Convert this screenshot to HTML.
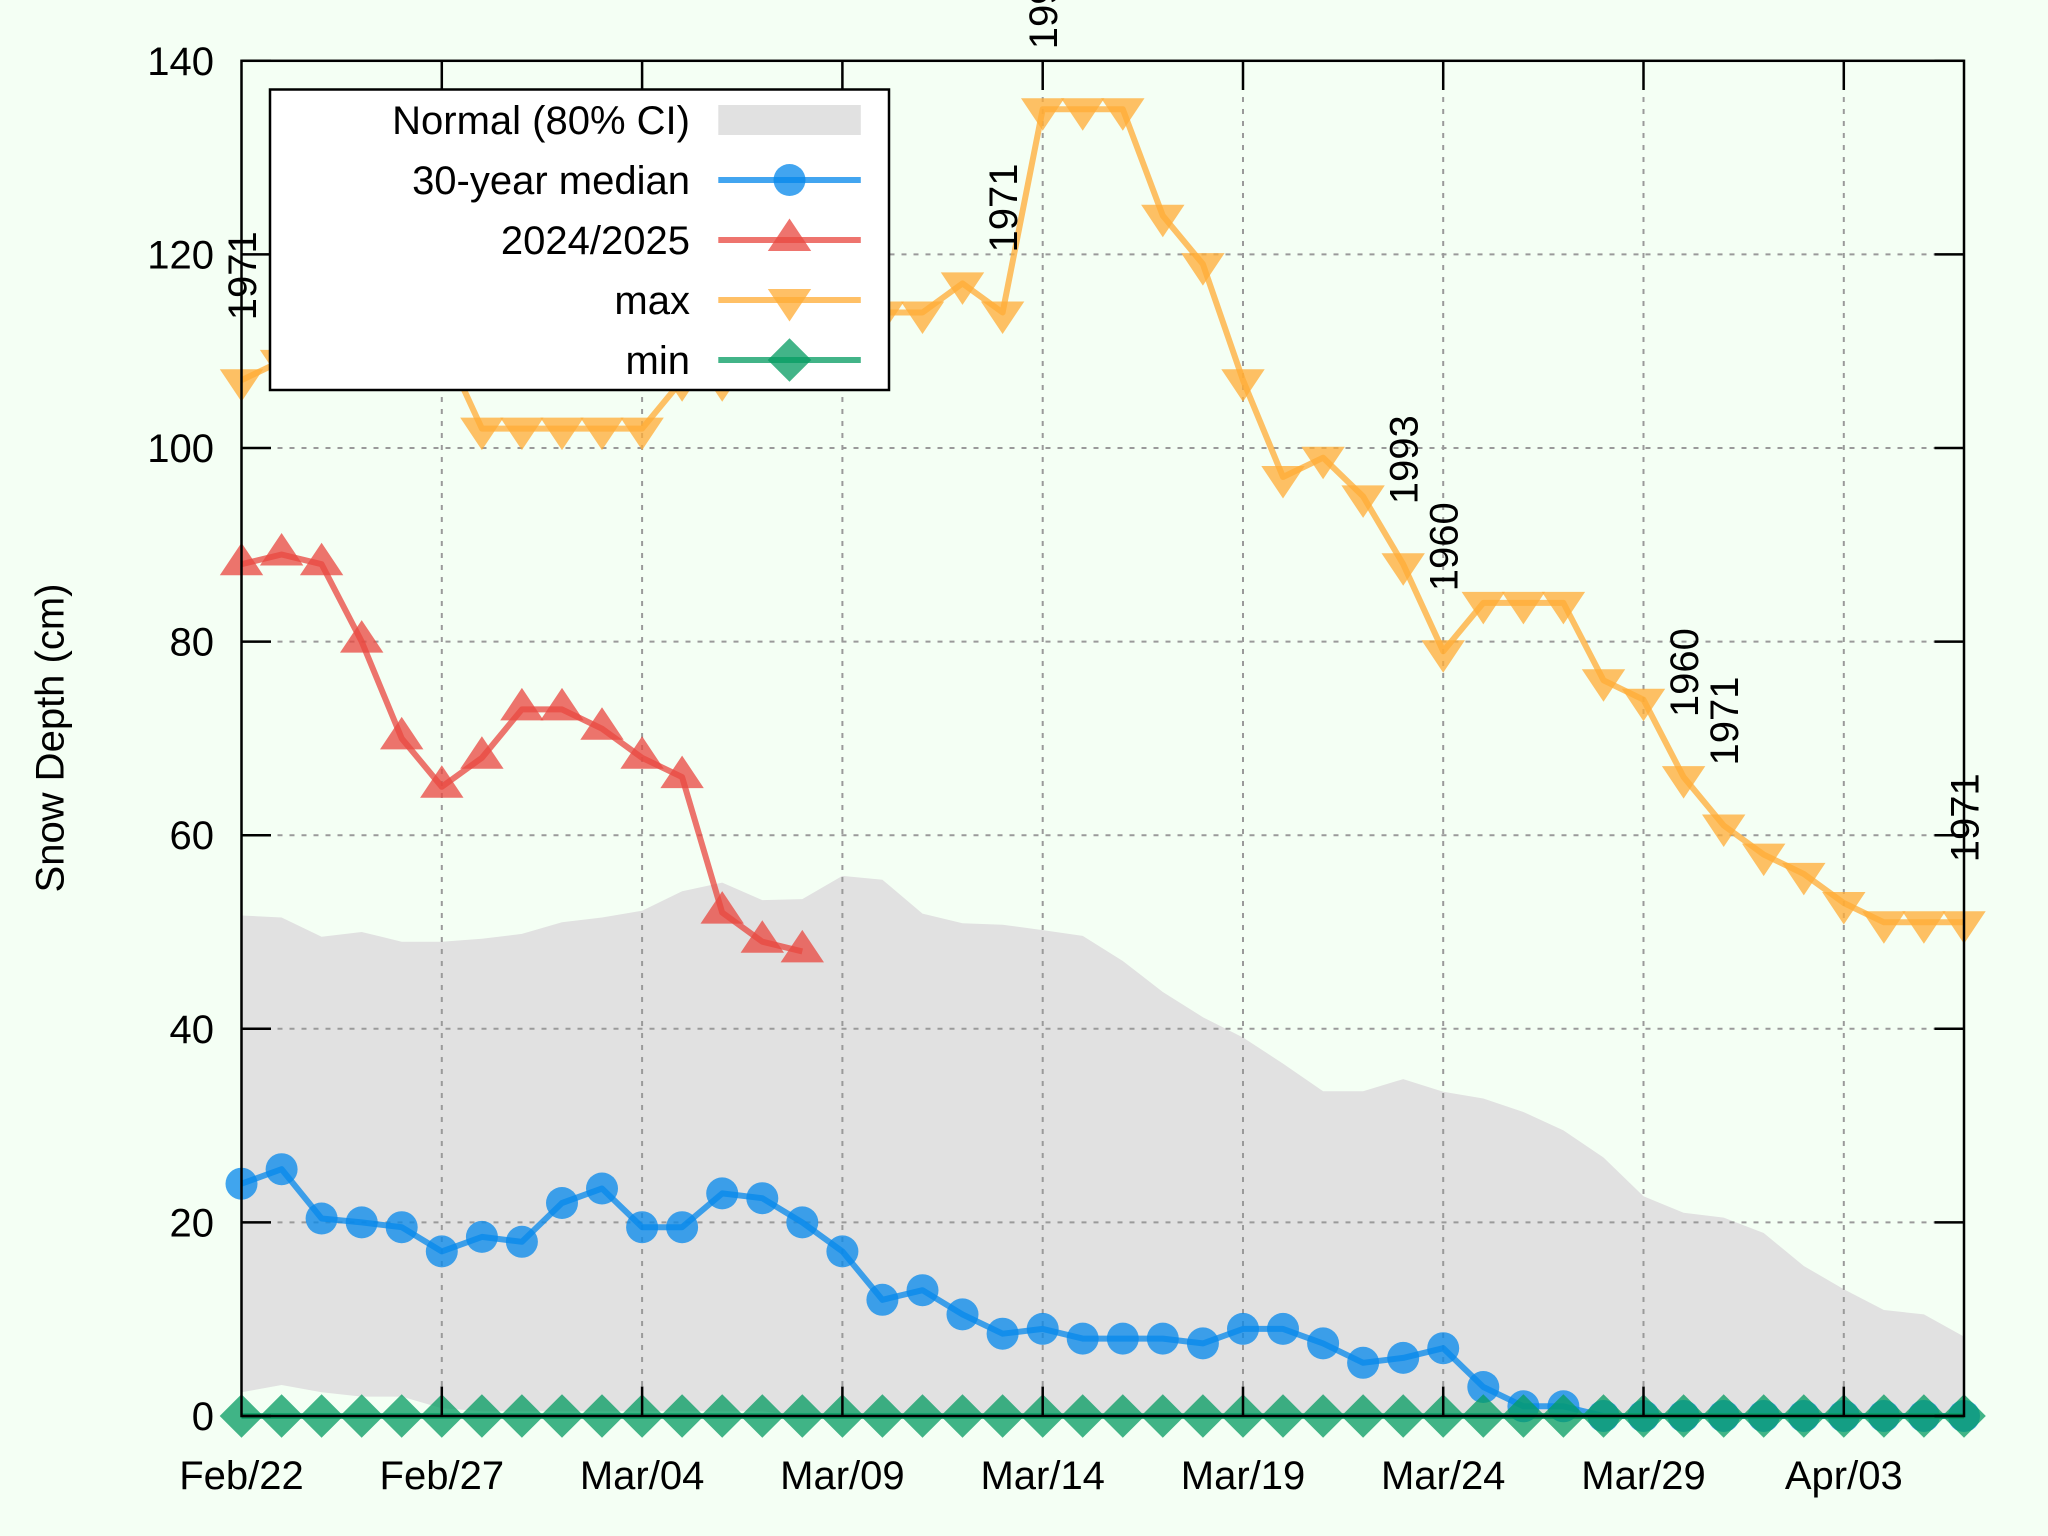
<!DOCTYPE html>
<html>
<head>
<meta charset="utf-8">
<style>
html,body{margin:0;padding:0;background:#f4fff4;}
svg{display:block;}
text{font-family:"Liberation Sans",Arial,sans-serif;font-size:40px;fill:#000;}
</style>
</head>
<body>
<svg width="2048" height="1536" viewBox="0 0 2048 1536" xmlns="http://www.w3.org/2000/svg">
<defs>
<path id="dt" d="M-21.7,-11 L21.7,-11 L0,21.5Z"/>
<path id="ut" d="M0,-21.5 L21.7,11 L-21.7,11Z"/>
<path id="dm" d="M0,-21.8 L21.8,0 L0,21.8 L-21.8,0Z"/>
</defs>
<rect x="0" y="0" width="2048" height="1536" fill="#f4fff4"/>

<!-- Normal band -->
<polygon fill="#e1e1e1" points="241.5,915.5 281.6,917.5 321.6,936.8 361.7,932.0 401.7,941.7 441.8,941.7 481.9,938.8 521.9,933.9 562.0,922.3 602.0,917.5 642.1,910.7 682.1,891.3 722.2,882.6 762.3,900.1 802.3,899.1 842.4,875.9 882.4,879.7 922.5,913.6 962.5,923.3 1002.6,924.7 1042.7,930.1 1082.7,935.9 1122.8,961.0 1162.8,992.0 1202.9,1017.2 1243.0,1037.5 1283.0,1063.6 1323.1,1091.2 1363.1,1091.2 1403.2,1079.1 1443.2,1091.7 1483.3,1098.5 1523.4,1112.0 1563.4,1130.4 1603.5,1157.5 1643.5,1196.3 1683.6,1212.7 1723.7,1217.6 1763.7,1233.0 1803.8,1266.0 1843.8,1289.2 1883.9,1310.0 1923.9,1314.4 1964.0,1336.6 1964.0,1416 802.3,1416 762.3,1411.2 722.2,1411.2 682.1,1411.2 642.1,1411.2 602.0,1411.2 562.0,1411.2 521.9,1411.2 481.9,1411.2 441.8,1408.3 401.7,1396.6 361.7,1396.6 321.6,1392.3 281.6,1385.0 241.5,1392.3"/>

<!-- grid -->
<g stroke="#9a9a9a" stroke-width="2" stroke-dasharray="5,7" fill="none">
<line x1="441.8" y1="61" x2="441.8" y2="1416"/>
<line x1="642.1" y1="61" x2="642.1" y2="1416"/>
<line x1="842.4" y1="61" x2="842.4" y2="1416"/>
<line x1="1042.7" y1="61" x2="1042.7" y2="1416"/>
<line x1="1243.0" y1="61" x2="1243.0" y2="1416"/>
<line x1="1443.2" y1="61" x2="1443.2" y2="1416"/>
<line x1="1643.5" y1="61" x2="1643.5" y2="1416"/>
<line x1="1843.8" y1="61" x2="1843.8" y2="1416"/>
<line x1="241.5" y1="1222.4" x2="1964" y2="1222.4"/>
<line x1="241.5" y1="1028.8" x2="1964" y2="1028.8"/>
<line x1="241.5" y1="835.2" x2="1964" y2="835.2"/>
<line x1="241.5" y1="641.6" x2="1964" y2="641.6"/>
<line x1="241.5" y1="448.0" x2="1964" y2="448.0"/>
<line x1="241.5" y1="254.4" x2="1964" y2="254.4"/>
</g>

<!-- 30-year median -->
<polyline fill="none" stroke="rgb(7,137,235)" stroke-opacity="0.76" stroke-width="6" stroke-linejoin="round" points="241.5,1183.7 281.6,1169.2 321.6,1218.5 361.7,1222.4 401.7,1227.2 441.8,1251.4 481.9,1236.9 521.9,1241.8 562.0,1203.0 602.0,1188.5 642.1,1227.2 682.1,1227.2 722.2,1193.4 762.3,1198.2 802.3,1222.4 842.4,1251.4 882.4,1299.8 922.5,1290.2 962.5,1314.4 1002.6,1333.7 1042.7,1328.9 1082.7,1338.6 1122.8,1338.6 1162.8,1338.6 1202.9,1343.4 1243.0,1328.9 1283.0,1328.9 1323.1,1343.4 1363.1,1362.8 1403.2,1357.9 1443.2,1348.2 1483.3,1387.0 1523.4,1406.3 1563.4,1406.3 1603.5,1416 1643.5,1416 1683.6,1416 1723.7,1416 1763.7,1416 1803.8,1416 1843.8,1416 1883.9,1416 1923.9,1416 1964.0,1416"/>
<g fill="rgb(7,137,235)" fill-opacity="0.76">
<circle r="16" cx="241.5" cy="1183.7"/><circle r="16" cx="281.6" cy="1169.2"/><circle r="16" cx="321.6" cy="1218.5"/><circle r="16" cx="361.7" cy="1222.4"/><circle r="16" cx="401.7" cy="1227.2"/><circle r="16" cx="441.8" cy="1251.4"/><circle r="16" cx="481.9" cy="1236.9"/><circle r="16" cx="521.9" cy="1241.8"/><circle r="16" cx="562.0" cy="1203.0"/><circle r="16" cx="602.0" cy="1188.5"/><circle r="16" cx="642.1" cy="1227.2"/><circle r="16" cx="682.1" cy="1227.2"/><circle r="16" cx="722.2" cy="1193.4"/><circle r="16" cx="762.3" cy="1198.2"/><circle r="16" cx="802.3" cy="1222.4"/><circle r="16" cx="842.4" cy="1251.4"/><circle r="16" cx="882.4" cy="1299.8"/><circle r="16" cx="922.5" cy="1290.2"/><circle r="16" cx="962.5" cy="1314.4"/><circle r="16" cx="1002.6" cy="1333.7"/><circle r="16" cx="1042.7" cy="1328.9"/><circle r="16" cx="1082.7" cy="1338.6"/><circle r="16" cx="1122.8" cy="1338.6"/><circle r="16" cx="1162.8" cy="1338.6"/><circle r="16" cx="1202.9" cy="1343.4"/><circle r="16" cx="1243.0" cy="1328.9"/><circle r="16" cx="1283.0" cy="1328.9"/><circle r="16" cx="1323.1" cy="1343.4"/><circle r="16" cx="1363.1" cy="1362.8"/><circle r="16" cx="1403.2" cy="1357.9"/><circle r="16" cx="1443.2" cy="1348.2"/><circle r="16" cx="1483.3" cy="1387.0"/><circle r="16" cx="1523.4" cy="1406.3"/><circle r="16" cx="1563.4" cy="1406.3"/><circle r="16" cx="1603.5" cy="1416"/><circle r="16" cx="1643.5" cy="1416"/><circle r="16" cx="1683.6" cy="1416"/><circle r="16" cx="1723.7" cy="1416"/><circle r="16" cx="1763.7" cy="1416"/><circle r="16" cx="1803.8" cy="1416"/><circle r="16" cx="1843.8" cy="1416"/><circle r="16" cx="1883.9" cy="1416"/><circle r="16" cx="1923.9" cy="1416"/><circle r="16" cx="1964.0" cy="1416"/>
</g>

<!-- 2024/2025 -->
<polyline fill="none" stroke="rgb(232,72,64)" stroke-opacity="0.76" stroke-width="6" stroke-linejoin="round" points="241.5,564.2 281.6,554.5 321.6,564.2 361.7,641.6 401.7,738.4 441.8,786.8 481.9,757.8 521.9,709.4 562.0,709.4 602.0,728.7 642.1,757.8 682.1,777.1 722.2,912.6 762.3,941.7 802.3,951.4"/>
<g fill="rgb(232,72,64)" fill-opacity="0.76">
<use href="#ut" x="241.5" y="564.2"/><use href="#ut" x="281.6" y="554.5"/><use href="#ut" x="321.6" y="564.2"/><use href="#ut" x="361.7" y="641.6"/><use href="#ut" x="401.7" y="738.4"/><use href="#ut" x="441.8" y="786.8"/><use href="#ut" x="481.9" y="757.8"/><use href="#ut" x="521.9" y="709.4"/><use href="#ut" x="562.0" y="709.4"/><use href="#ut" x="602.0" y="728.7"/><use href="#ut" x="642.1" y="757.8"/><use href="#ut" x="682.1" y="777.1"/><use href="#ut" x="722.2" y="912.6"/><use href="#ut" x="762.3" y="941.7"/><use href="#ut" x="802.3" y="951.4"/>
</g>

<!-- max -->
<polyline fill="none" stroke="rgb(255,172,54)" stroke-opacity="0.76" stroke-width="6" stroke-linejoin="round" points="241.5,380.2 281.6,360.9 321.6,351.2 361.7,341.5 401.7,331.8 441.8,341.5 481.9,428.6 521.9,428.6 562.0,428.6 602.0,428.6 642.1,428.6 682.1,380.2 722.2,380.2 762.3,331.8 802.3,322.2 842.4,312.5 882.4,312.5 922.5,312.5 962.5,283.4 1002.6,312.5 1042.7,109.2 1082.7,109.2 1122.8,109.2 1162.8,215.7 1202.9,264.1 1243.0,380.2 1283.0,477.0 1323.1,457.7 1363.1,496.4 1403.2,564.2 1443.2,651.3 1483.3,602.9 1523.4,602.9 1563.4,602.9 1603.5,680.3 1643.5,699.7 1683.6,777.1 1723.7,825.5 1763.7,854.6 1803.8,873.9 1843.8,903.0 1883.9,922.3 1923.9,922.3 1964.0,922.3"/>
<g fill="rgb(255,172,54)" fill-opacity="0.76">
<use href="#dt" x="241.5" y="380.2"/><use href="#dt" x="281.6" y="360.9"/><use href="#dt" x="321.6" y="351.2"/><use href="#dt" x="361.7" y="341.5"/><use href="#dt" x="401.7" y="331.8"/><use href="#dt" x="441.8" y="341.5"/><use href="#dt" x="481.9" y="428.6"/><use href="#dt" x="521.9" y="428.6"/><use href="#dt" x="562.0" y="428.6"/><use href="#dt" x="602.0" y="428.6"/><use href="#dt" x="642.1" y="428.6"/><use href="#dt" x="682.1" y="380.2"/><use href="#dt" x="722.2" y="380.2"/><use href="#dt" x="762.3" y="331.8"/><use href="#dt" x="802.3" y="322.2"/><use href="#dt" x="842.4" y="312.5"/><use href="#dt" x="882.4" y="312.5"/><use href="#dt" x="922.5" y="312.5"/><use href="#dt" x="962.5" y="283.4"/><use href="#dt" x="1002.6" y="312.5"/><use href="#dt" x="1042.7" y="109.2"/><use href="#dt" x="1082.7" y="109.2"/><use href="#dt" x="1122.8" y="109.2"/><use href="#dt" x="1162.8" y="215.7"/><use href="#dt" x="1202.9" y="264.1"/><use href="#dt" x="1243.0" y="380.2"/><use href="#dt" x="1283.0" y="477.0"/><use href="#dt" x="1323.1" y="457.7"/><use href="#dt" x="1363.1" y="496.4"/><use href="#dt" x="1403.2" y="564.2"/><use href="#dt" x="1443.2" y="651.3"/><use href="#dt" x="1483.3" y="602.9"/><use href="#dt" x="1523.4" y="602.9"/><use href="#dt" x="1563.4" y="602.9"/><use href="#dt" x="1603.5" y="680.3"/><use href="#dt" x="1643.5" y="699.7"/><use href="#dt" x="1683.6" y="777.1"/><use href="#dt" x="1723.7" y="825.5"/><use href="#dt" x="1763.7" y="854.6"/><use href="#dt" x="1803.8" y="873.9"/><use href="#dt" x="1843.8" y="903.0"/><use href="#dt" x="1883.9" y="922.3"/><use href="#dt" x="1923.9" y="922.3"/><use href="#dt" x="1964.0" y="922.3"/>
</g>

<!-- min -->
<line x1="241.5" y1="1416" x2="1964" y2="1416" stroke="rgb(6,156,98)" stroke-opacity="0.76" stroke-width="6"/>
<g fill="rgb(6,156,98)" fill-opacity="0.76">
<use href="#dm" x="241.5" y="1416"/><use href="#dm" x="281.6" y="1416"/><use href="#dm" x="321.6" y="1416"/><use href="#dm" x="361.7" y="1416"/><use href="#dm" x="401.7" y="1416"/><use href="#dm" x="441.8" y="1416"/><use href="#dm" x="481.9" y="1416"/><use href="#dm" x="521.9" y="1416"/><use href="#dm" x="562.0" y="1416"/><use href="#dm" x="602.0" y="1416"/><use href="#dm" x="642.1" y="1416"/><use href="#dm" x="682.1" y="1416"/><use href="#dm" x="722.2" y="1416"/><use href="#dm" x="762.3" y="1416"/><use href="#dm" x="802.3" y="1416"/><use href="#dm" x="842.4" y="1416"/><use href="#dm" x="882.4" y="1416"/><use href="#dm" x="922.5" y="1416"/><use href="#dm" x="962.5" y="1416"/><use href="#dm" x="1002.6" y="1416"/><use href="#dm" x="1042.7" y="1416"/><use href="#dm" x="1082.7" y="1416"/><use href="#dm" x="1122.8" y="1416"/><use href="#dm" x="1162.8" y="1416"/><use href="#dm" x="1202.9" y="1416"/><use href="#dm" x="1243.0" y="1416"/><use href="#dm" x="1283.0" y="1416"/><use href="#dm" x="1323.1" y="1416"/><use href="#dm" x="1363.1" y="1416"/><use href="#dm" x="1403.2" y="1416"/><use href="#dm" x="1443.2" y="1416"/><use href="#dm" x="1483.3" y="1416"/><use href="#dm" x="1523.4" y="1416"/><use href="#dm" x="1563.4" y="1416"/><use href="#dm" x="1603.5" y="1416"/><use href="#dm" x="1643.5" y="1416"/><use href="#dm" x="1683.6" y="1416"/><use href="#dm" x="1723.7" y="1416"/><use href="#dm" x="1763.7" y="1416"/><use href="#dm" x="1803.8" y="1416"/><use href="#dm" x="1843.8" y="1416"/><use href="#dm" x="1883.9" y="1416"/><use href="#dm" x="1923.9" y="1416"/><use href="#dm" x="1964.0" y="1416"/>
</g>

<!-- record year labels -->
<text transform="translate(255.8,320.2) rotate(-90)">1971</text>
<text transform="translate(1016.9,252.5) rotate(-90)">1971</text>
<text transform="translate(1057,49.2) rotate(-90)">1993</text>
<text transform="translate(1417.5,504.2) rotate(-90)">1993</text>
<text transform="translate(1457.5,591.3) rotate(-90)">1960</text>
<text transform="translate(1697.9,717.1) rotate(-90)">1960</text>
<text transform="translate(1738,765.5) rotate(-90)">1971</text>
<text transform="translate(1978.3,862.3) rotate(-90)">1971</text>

<!-- border and ticks -->
<g stroke="#000" stroke-width="2.5" fill="none">
<rect x="241.5" y="60.8" width="1722.5" height="1355.2"/>
<path d="M241.5,1416H271 M241.5,1222.4H271 M241.5,1028.8H271 M241.5,835.2H271 M241.5,641.6H271 M241.5,448H271 M241.5,254.4H271 M241.5,60.8H271
M1964,1416H1934.5 M1964,1222.4H1934.5 M1964,1028.8H1934.5 M1964,835.2H1934.5 M1964,641.6H1934.5 M1964,448H1934.5 M1964,254.4H1934.5 M1964,60.8H1934.5
M441.8,1416V1386.5 M642.1,1416V1386.5 M842.4,1416V1386.5 M1042.7,1416V1386.5 M1243,1416V1386.5 M1443.2,1416V1386.5 M1643.5,1416V1386.5 M1843.8,1416V1386.5
M441.8,60.8V90 M642.1,60.8V90 M842.4,60.8V90 M1042.7,60.8V90 M1243,60.8V90 M1443.2,60.8V90 M1643.5,60.8V90 M1843.8,60.8V90"/>
</g>

<!-- legend -->
<rect x="270" y="89.5" width="619" height="300.5" fill="#ffffff" stroke="#000" stroke-width="2.5"/>
<g text-anchor="end">
<text x="690" y="134">Normal (80% CI)</text>
<text x="690" y="194">30-year median</text>
<text x="690" y="254">2024/2025</text>
<text x="690" y="314">max</text>
<text x="690" y="374">min</text>
</g>
<rect x="718.3" y="105" width="142.5" height="30" fill="#e1e1e1"/>
<line x1="718.3" y1="180" x2="860.8" y2="180" stroke="rgb(7,137,235)" stroke-opacity="0.76" stroke-width="6"/>
<circle cx="789.5" cy="180" r="16" fill="rgb(7,137,235)" fill-opacity="0.76"/>
<line x1="718.3" y1="240" x2="860.8" y2="240" stroke="rgb(232,72,64)" stroke-opacity="0.76" stroke-width="6"/>
<use href="#ut" x="789.5" y="240" fill="rgb(232,72,64)" fill-opacity="0.76"/>
<line x1="718.3" y1="300" x2="860.8" y2="300" stroke="rgb(255,172,54)" stroke-opacity="0.76" stroke-width="6"/>
<use href="#dt" x="789.5" y="300" fill="rgb(255,172,54)" fill-opacity="0.76"/>
<line x1="718.3" y1="360" x2="860.8" y2="360" stroke="rgb(6,156,98)" stroke-opacity="0.76" stroke-width="6"/>
<use href="#dm" x="789.5" y="360" fill="rgb(6,156,98)" fill-opacity="0.76"/>

<!-- y tick labels -->
<g text-anchor="end">
<text x="214" y="1430">0</text>
<text x="214" y="1236.4">20</text>
<text x="214" y="1042.8">40</text>
<text x="214" y="849.2">60</text>
<text x="214" y="655.6">80</text>
<text x="214" y="462">100</text>
<text x="214" y="268.4">120</text>
<text x="214" y="74.8">140</text>
</g>

<!-- x tick labels -->
<g text-anchor="middle">
<text x="241.5" y="1489">Feb/22</text>
<text x="441.8" y="1489">Feb/27</text>
<text x="642.1" y="1489">Mar/04</text>
<text x="842.4" y="1489">Mar/09</text>
<text x="1042.7" y="1489">Mar/14</text>
<text x="1243.0" y="1489">Mar/19</text>
<text x="1443.2" y="1489">Mar/24</text>
<text x="1643.5" y="1489">Mar/29</text>
<text x="1843.8" y="1489">Apr/03</text>
</g>

<!-- y axis title -->
<text transform="translate(63.3,738) rotate(-90)" text-anchor="middle">Snow Depth (cm)</text>
</svg>
</body>
</html>
